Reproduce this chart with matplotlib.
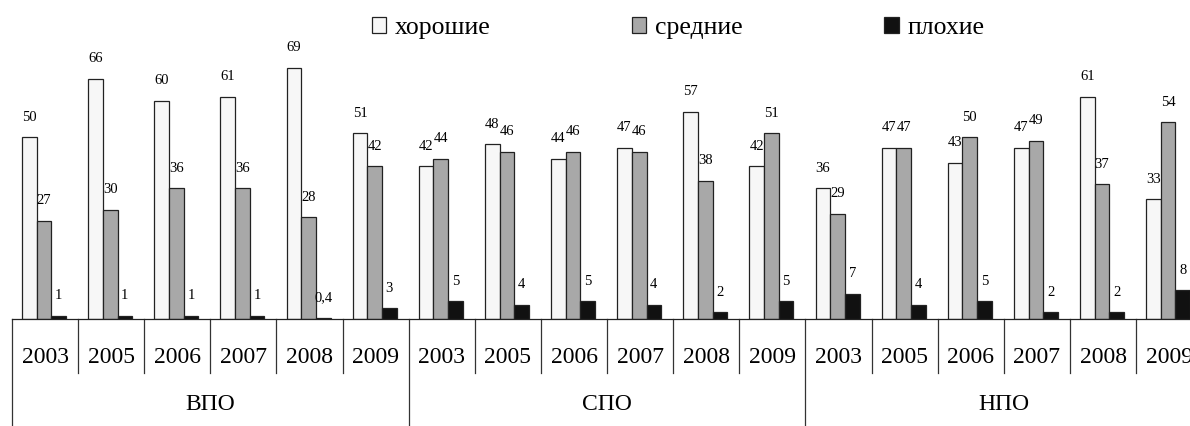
import matplotlib
matplotlib.use('Agg')
import matplotlib.pyplot as plt
from matplotlib.patches import Patch
import numpy as np

# ── Данные ─────────────────────────────────────────────
groups = ['ВПО', 'СПО', 'НПО']
years = ['2003', '2005', '2006', '2007', '2008', '2009']
series_names = ['хорошие', 'средние', 'плохие']

good = [50, 66, 60, 61, 69, 51,   42, 48, 44, 47, 57, 42,   36, 47, 43, 47, 61, 33]
mid  = [27, 30, 36, 36, 28, 42,   44, 46, 46, 46, 38, 51,   29, 47, 50, 49, 37, 54]
bad  = [1, 1, 1, 1, 0.4, 3,       5, 4, 5, 4, 2, 5,         7, 4, 5, 2, 2, 8]

colors = ['#f7f7f7', '#a8a8a8', '#111111']

plt.rcParams['font.family'] = ['Liberation Serif', 'DejaVu Serif']

# ── График ─────────────────────────────────────────────
fig = plt.figure(figsize=(11.9, 4.26), dpi=100)
# ось чуть шире картинки: последний столбец обрезан, как в оригинале
ax = fig.add_axes([12 / 1190, 106.7 / 426, 1190.2 / 1190, 319.3 / 426])

n = len(good)
x = np.arange(n) - 0.015
w = 0.222
for k, (vals, col) in enumerate(zip([good, mid, bad], colors)):
    pos = x + (k - 1) * w
    ax.bar(pos, vals, width=w, color=col, edgecolor='#222222', linewidth=0.9)
    for px, v in zip(pos, vals):
        txt = ('%g' % v).replace('.', ',')
        ax.annotate(txt, (px, v), xytext=(0, 14.4), textcoords='offset points',
                    ha='center', va='center', fontsize=10.5)

ax.set_xlim(-0.5, n - 0.5)
ax.set_ylim(0, 87.6)
for s in ['top', 'right', 'left']:
    ax.spines[s].set_visible(False)
ax.spines['bottom'].set_color('#222222')
ax.spines['bottom'].set_linewidth(0.9)
ax.set_xticks([])
ax.set_yticks([])

# подписи категорий (годы + группы)
tr = ax.get_xaxis_transform()
for i in range(n + 1):
    b = i - 0.5
    y_end = -0.334 if i % len(years) == 0 else -0.168
    ax.plot([b, b], [0, y_end], transform=tr, color='#333333', lw=0.9, clip_on=False)
for i in range(n):
    ax.text(i, -0.12, years[i % len(years)], transform=tr, ha='center', va='center',
            fontsize=17)
for g, name in enumerate(groups):
    ax.text(g * len(years) + (len(years) - 1) / 2, -0.268, name, transform=tr,
            ha='center', va='center', fontsize=17)

handles = [Patch(facecolor=c, edgecolor='#222222', linewidth=0.9) for c in colors]
fig.legend(handles, series_names, loc='center', bbox_to_anchor=(0.570, 0.934), ncol=3,
           frameon=False, fontsize=18.5, handlelength=0.55, handleheight=0.55,
           handletextpad=0.35, columnspacing=5.5)

fig.savefig('out.png', dpi=100)
